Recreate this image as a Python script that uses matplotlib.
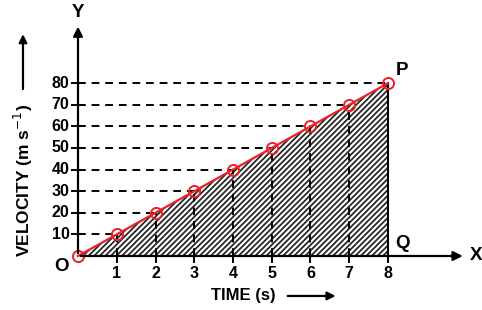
import numpy as np
import matplotlib.pyplot as plt
from matplotlib.patches import Polygon

# data: velocity grows 10 m/s every second
time_s = [0, 1, 2, 3, 4, 5, 6, 7, 8]
velocity = [0, 10, 20, 30, 40, 50, 60, 70, 80]
x_ticks = [1, 2, 3, 4, 5, 6, 7, 8]
y_ticks = [10, 20, 30, 40, 50, 60, 70, 80]

plt.rcParams['font.family'] = ['Liberation Sans', 'DejaVu Sans']
plt.rcParams['hatch.linewidth'] = 1.25

fig = plt.figure(figsize=(4.82, 3.10), dpi=100)
ax = fig.add_axes([0, 0, 1, 1])
ax.set_xlim(-2.013, 10.426)
ax.set_ylim(-25.0, 118.5)
ax.axis('off')

# hatched area under the line
poly = Polygon(list(zip(time_s, velocity)) + [(time_s[-1], 0)], closed=True,
               facecolor='white', edgecolor='#222222', hatch='//////', lw=0)
ax.add_patch(poly)
ax.plot([8, 8], [0, 80], color='black', lw=1.5)

# dashed guide lines
for t, v in zip(time_s[1:], velocity[1:]):
    ax.plot([0, t], [v, v], color='black', lw=1.4, ls=(0, (4, 3)))
    ax.plot([t, t], [0, v], color='black', lw=1.4, ls=(0, (4, 3)))

# axes with arrows
ax.annotate('', xy=(10.0, 0), xytext=(0, 0),
            arrowprops=dict(arrowstyle='-|>', color='black', lw=1.6, mutation_scale=14))
ax.annotate('', xy=(0, 107.5), xytext=(0, 0),
            arrowprops=dict(arrowstyle='-|>', color='black', lw=1.6, mutation_scale=14))

for t in x_ticks:
    ax.plot([t, t], [0, -3], color='black', lw=1.4)
    ax.text(t, -4.5, str(t), ha='center', va='top', fontsize=11.5, fontweight='bold')
for v in y_ticks:
    ax.plot([-0.15, 0.15], [v, v], color='black', lw=1.4)
    ax.text(-0.22, v, str(v), ha='right', va='center', fontsize=11.5, fontweight='bold')

# red line with hollow markers
ax.plot(time_s, velocity, color='#ec2027', lw=1.6, marker='o', ms=8,
        mfc='none', mec='#ec2027', mew=1.4)

ax.text(-0.25, -1, 'O', ha='right', va='top', fontsize=13.5, fontweight='bold')
ax.text(10.1, 0, 'X', ha='left', va='center', fontsize=13.5, fontweight='bold')
ax.text(0, 112.5, 'Y', ha='center', va='center', fontsize=13.5, fontweight='bold')
ax.text(8.2, 82, 'P', ha='left', va='bottom', fontsize=13.5, fontweight='bold')
ax.text(8.2, 2, 'Q', ha='left', va='bottom', fontsize=13.5, fontweight='bold')

# axis titles with arrows
ax.text(-1.42, 35, 'VELOCITY (m s$^{-1}$)', rotation=90, ha='center', va='center',
        fontsize=12.5, fontweight='bold')
ax.annotate('', xy=(-1.42, 104), xytext=(-1.42, 76),
            arrowprops=dict(arrowstyle='-|>', color='black', lw=1.6, mutation_scale=12))
ax.text(4.26, -18.5, 'TIME (s)', ha='center', va='center', fontsize=12, fontweight='bold')
ax.annotate('', xy=(6.72, -18.5), xytext=(5.34, -18.5),
            arrowprops=dict(arrowstyle='-|>', color='black', lw=1.6, mutation_scale=12))

plt.savefig('out.png', dpi=100)
